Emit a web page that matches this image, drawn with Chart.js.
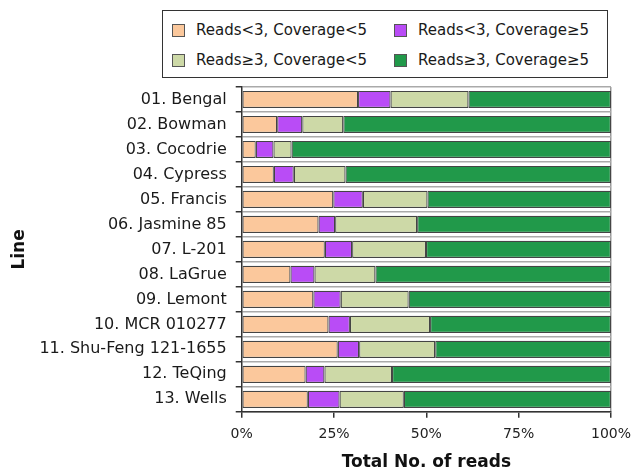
<!DOCTYPE html>
<html>
<head>
<meta charset="utf-8">
<script src="https://cdn.jsdelivr.net/npm/chart.js@4/dist/chart.umd.min.js"></script>
<style>
  html, body { margin: 0; padding: 0; background: #fff; }
  #wrap { position: relative; width: 632px; height: 476px; }
  #legend {
    position: absolute; left: 162px; top: 10px; width: 446px; height: 68px;
    border: 1.5px solid #333; box-sizing: border-box; background: #fff;
    font-family: "DejaVu Sans", sans-serif; font-size: 15px; color: #1a1a1a;
    padding-top: 4px;
  }
  .row { display: flex; height: 30px; align-items: center; }
  .item { display: flex; align-items: center; width: 230px; padding-left: 9px; box-sizing: border-box; }
  .swatch { width: 11px; height: 11px; border: 1px solid #555; margin-right: 11px; flex: none; }
</style>
</head>
<body>
<div id="wrap">
  <canvas id="chart" width="632" height="476"></canvas>
  <div id="legend"></div>
</div>
<script>
// Rice lines and the share of reads (%) falling in each read / coverage class
const lines = [
  '01. Bengal', '02. Bowman', '03. Cocodrie', '04. Cypress', '05. Francis',
  '06. Jasmine 85', '07. L-201', '08. LaGrue', '09. Lemont', '10. MCR 010277',
  '11. Shu-Feng 121-1655', '12. TeQing', '13. Wells'
];
const lowReadsLowCov  = [31.5, 9.6, 3.8, 8.7, 24.8, 20.8, 22.5, 13.2, 19.4, 23.5, 26.0, 17.3, 17.9];
const lowReadsHighCov = [8.8, 6.8, 4.8, 5.4, 8.0, 4.5, 7.4, 6.5, 7.4, 5.8, 5.8, 5.1, 8.6];
const highReadsLowCov = [21.1, 11.1, 4.9, 14.0, 17.5, 22.2, 20.0, 16.5, 18.4, 21.7, 20.6, 18.3, 17.4];
const highReadsHighCov = [38.6, 72.5, 86.5, 71.9, 49.7, 52.5, 50.1, 63.8, 54.8, 49.0, 47.6, 59.3, 56.1];
const seriesNames = ['Reads<3, Coverage<5', 'Reads<3, Coverage\u22655', 'Reads\u22653, Coverage<5', 'Reads\u22653, Coverage\u22655'];
const xTicks = [0, 25, 50, 75, 100];

const fills = ['#fbc89c', '#b94cf6', '#cdd9a7', '#21994a'];
const FONT = '"DejaVu Sans", sans-serif';
Chart.defaults.font.family = FONT;

const seriesValues = [lowReadsLowCov, lowReadsHighCov, highReadsLowCov, highReadsHighCov];
const datasets = seriesValues.map((vals, i) => ({
  label: seriesNames[i],
  data: vals,
  backgroundColor: fills[i],
  borderColor: '#444',
  borderWidth: 1.2,
  borderSkipped: false,
  barPercentage: 0.7,
  categoryPercentage: 0.98
}));

const chart = new Chart(document.getElementById('chart'), {
  type: 'bar',
  data: { labels: lines, datasets },
  options: {
    indexAxis: 'y',
    responsive: false,
    animation: false,
    layout: { autoPadding: false, padding: { top: 87, right: 21, left: 2, bottom: 2 } },
    plugins: { legend: { display: false }, tooltip: { enabled: false } },
    scales: {
      x: {
        stacked: true, min: 0, max: 100,
        afterBuildTicks: axis => { axis.ticks = xTicks.map(v => ({ value: v })); },
        // the "100%" label may run into the right margin; don't shrink the plot for it
        afterFit: axis => { axis.paddingRight = 0; axis.paddingLeft = 0; },
        ticks: { callback: v => v + '%', color: '#222', font: { size: 14 }, padding: 8, maxRotation: 0 },
        grid: {
          color: c => (c.tick && c.tick.value === 100) ? '#999' : 'rgba(0,0,0,0)',
          tickColor: '#333', tickLength: 6, lineWidth: 1.5
        },
        border: { color: '#333', width: 1.5 },
        title: { display: true, text: 'Total No. of reads', color: '#111',
                 font: { size: 17, weight: 'bold' }, padding: { top: 2, bottom: 1 } }
      },
      y: {
        stacked: true,
        grid: { offset: true, color: '#aaa', tickColor: '#333', tickLength: 6, lineWidth: 1.5 },
        border: { color: '#333', width: 1.5 },
        ticks: { color: '#1a1a1a', font: { size: 16 }, padding: 9, autoSkip: false },
        title: { display: true, text: 'Line', color: '#111',
                 font: { size: 17, weight: 'bold' }, padding: { top: 7, bottom: 1 } }
      }
    }
  }
});

// Two-column legend built from the chart's own datasets
const legend = document.getElementById('legend');
for (let r = 0; r < 2; r++) {
  const row = document.createElement('div');
  row.className = 'row';
  for (let c = 0; c < 2; c++) {
    const ds = chart.data.datasets[r * 2 + c];
    const item = document.createElement('div');
    item.className = 'item';
    const sw = document.createElement('span');
    sw.className = 'swatch';
    sw.style.background = ds.backgroundColor;
    const tx = document.createElement('span');
    tx.textContent = ds.label;
    item.appendChild(sw);
    item.appendChild(tx);
    row.appendChild(item);
  }
  legend.appendChild(row);
}
</script>
</body>
</html>
